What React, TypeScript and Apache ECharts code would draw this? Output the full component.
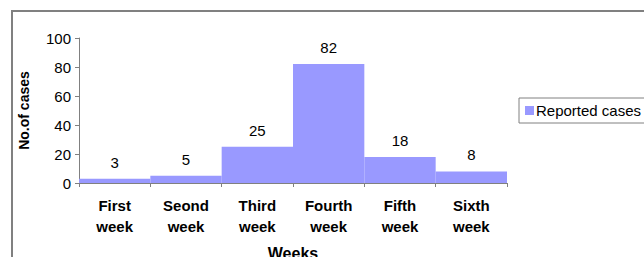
import React, { useEffect, useRef } from "react";
import * as echarts from "echarts";

const categories = ["First\nweek", "Seond\nweek", "Third\nweek", "Fourth\nweek", "Fifth\nweek", "Sixth\nweek"];
const reportedCases = [3, 5, 25, 82, 18, 8];
const seriesName = "Reported cases";
const yAxisName = "No.of cases";
const xAxisName = "Weeks";

export default function App() {
  const ref = useRef<HTMLDivElement>(null);
  useEffect(() => {
    if (!ref.current) return;
    const chart = echarts.init(ref.current, null, { renderer: "svg" });
    const font = "'Liberation Sans', Arial, sans-serif";
    chart.setOption({
      animation: false,
      textStyle: { fontFamily: font },
      graphic: [
        {
          type: "rect",
          shape: { x: 12, y: 11, width: 700, height: 300 },
          style: { fill: "none", stroke: "#808080", lineWidth: 2 },
          silent: true,
        },
      ],
      legend: {
        left: 519,
        top: 98,
        orient: "vertical",
        borderColor: "#808080",
        borderWidth: 1,
        borderRadius: 0,
        padding: [5, 8, 5, 6],
        icon: "rect",
        itemWidth: 9,
        itemHeight: 9,
        itemGap: 4,
        textStyle: { fontSize: 15, color: "#000", fontFamily: font, padding: [0, 0, 0, -3] },
        data: [seriesName],
      },
      grid: {
        left: 79,
        top: 38,
        right: 137,
        bottom: 74,
        containLabel: false,
        outerBoundsMode: "none",
      },
      xAxis: {
        type: "category",
        data: categories,
        name: xAxisName,
        nameLocation: "middle",
        nameGap: 62,
        nameTextStyle: { fontSize: 16, fontWeight: "bold", color: "#000", fontFamily: font },
        axisLine: { lineStyle: { color: "#808080", width: 1 } },
        axisTick: { show: true, length: 4, lineStyle: { color: "#808080" } },
        axisLabel: {
          color: "#000",
          fontSize: 15,
          fontWeight: "bold",
          fontFamily: font,
          lineHeight: 21,
          margin: 12,
        },
      },
      yAxis: {
        type: "value",
        min: 0,
        max: 100,
        interval: 20,
        name: yAxisName,
        nameLocation: "middle",
        nameGap: 48,
        nameRotate: 90,
        nameTextStyle: { fontSize: 14, fontWeight: "bold", color: "#000", fontFamily: font },
        axisLine: { show: true, lineStyle: { color: "#808080", width: 1 } },
        axisTick: { show: true, length: 4, lineStyle: { color: "#808080" } },
        splitLine: { show: false },
        axisLabel: { color: "#000", fontSize: 15, fontFamily: font, margin: 8 },
      },
      series: [
        {
          name: seriesName,
          type: "bar",
          data: reportedCases,
          barCategoryGap: "0%",
          itemStyle: { color: "#9999FF" },
          label: {
            show: true,
            position: "top",
            distance: 9,
            color: "#000",
            fontSize: 15,
            fontFamily: font,
          },
        },
      ],
    });
    return () => chart.dispose();
  }, []);
  return (
    <div
      ref={ref}
      style={{ position: "fixed", left: 0, top: 0, width: 644, height: 257, background: "#fff" }}
    />
  );
}
